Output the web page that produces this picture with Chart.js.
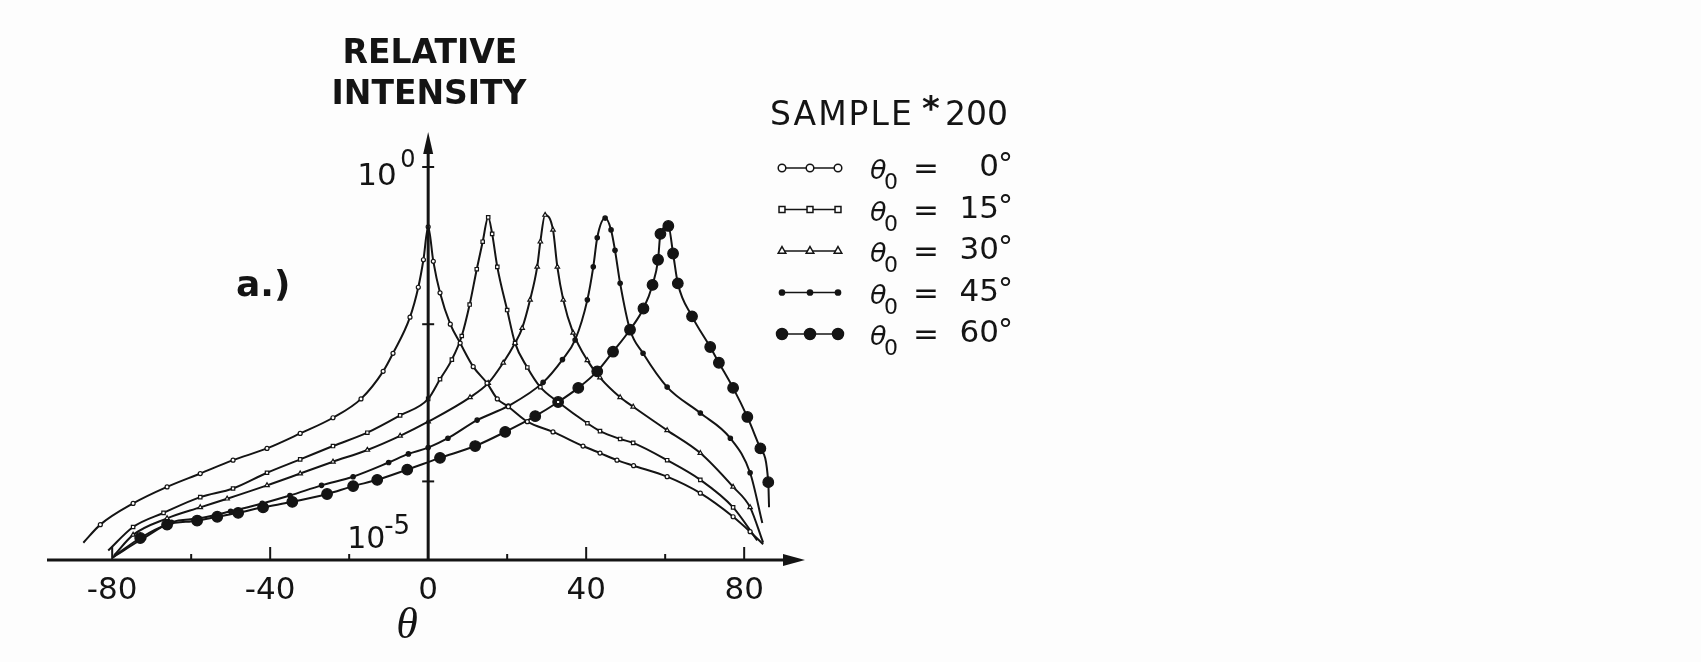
<!DOCTYPE html>
<html>
<head>
<meta charset="utf-8">
<title>Relative intensity vs scattering angle</title>
<script src="https://cdn.jsdelivr.net/npm/chart.js@4.4.1/dist/chart.umd.min.js"></script>
<style>
    html, body { margin: 0; padding: 0; background: #fdfdfd; }
    #wrap { width: 1701px; height: 662px; }
</style>
</head>
<body>
<div id="wrap"><canvas id="intensityChart" width="1701" height="662"></canvas></div>
<script>
// incidence angles (deg) of the five runs
const incidence = [0, 15, 30, 45, 60];

// scattering angle theta (deg) and log10 of relative intensity for each run
const theta0 = [-87.3, -83, -74.7, -66.1, -57.7, -49.4, -40.8, -32.4, -24.1, -17, -11.4, -8.9, -4.6, -2.5, -1.2, 0, 1.3, 3, 5.6, 8.1, 11.4, 14.9, 17.5, 20.3, 25.1, 31.6, 39.2, 43.5, 47.8, 52, 60.5, 68.9, 77.2, 81.5, 84.8];
const logI0 = [-4.78, -4.55, -4.28, -4.07, -3.90, -3.73, -3.58, -3.39, -3.19, -2.95, -2.60, -2.37, -1.91, -1.53, -1.18, -0.76, -1.2, -1.6, -2.0, -2.24, -2.54, -2.75, -2.95, -3.05, -3.24, -3.37, -3.55, -3.64, -3.73, -3.80, -3.94, -4.15, -4.45, -4.64, -4.80];

const theta15 = [-81, -74.7, -67, -57.7, -49.4, -40.8, -32.4, -24.1, -15.4, -7.1, 0, 3, 6, 8.5, 10.5, 12.3, 13.8, 15.2, 16.2, 17.5, 20, 22, 25.1, 28.4, 32.9, 40.3, 43.5, 48.6, 51.9, 60.5, 68.9, 77.2, 83.3];
const logI15 = [-4.88, -4.58, -4.40, -4.20, -4.09, -3.89, -3.72, -3.55, -3.38, -3.16, -2.95, -2.70, -2.45, -2.15, -1.75, -1.3, -0.95, -0.64, -0.85, -1.27, -1.82, -2.24, -2.55, -2.80, -2.99, -3.26, -3.36, -3.46, -3.51, -3.73, -3.98, -4.33, -4.75];

const theta30 = [-79.5, -74.7, -66.1, -57.7, -50.9, -40.8, -32.4, -24.1, -15.4, -7.1, 0, 10.6, 15.2, 19, 22, 23.8, 25.8, 27.6, 28.4, 29.6, 31.6, 32.7, 34.2, 36.7, 40.3, 43.5, 48.6, 51.9, 60.5, 68.9, 77.2, 81.5, 84.8];
const logI30 = [-4.94, -4.68, -4.47, -4.33, -4.22, -4.05, -3.90, -3.75, -3.60, -3.42, -3.24, -2.93, -2.75, -2.49, -2.24, -2.05, -1.69, -1.27, -0.95, -0.61, -0.80, -1.27, -1.69, -2.11, -2.46, -2.68, -2.93, -3.05, -3.35, -3.64, -4.07, -4.33, -4.78];

const theta45 = [-80, -72, -65, -58, -50, -42, -35, -27, -19, -10, -5, 0, 5, 12.4, 20.3, 29.1, 34, 37.2, 40.3, 41.8, 42.8, 44.8, 46.3, 47.3, 48.6, 51.1, 54.4, 60.5, 68.9, 76.5, 81.5, 84.6];
const logI45 = [-4.97, -4.72, -4.52, -4.47, -4.38, -4.28, -4.18, -4.05, -3.94, -3.76, -3.65, -3.57, -3.45, -3.22, -3.04, -2.74, -2.45, -2.20, -1.69, -1.27, -0.90, -0.65, -0.80, -1.06, -1.48, -2.07, -2.37, -2.80, -3.13, -3.45, -3.89, -4.53];

const theta60 = [-80, -72.9, -66.1, -58.5, -53.4, -48.1, -41.8, -34.4, -25.6, -19, -12.9, -5.3, 3, 11.9, 19.5, 27.1, 32.9, 38, 42.8, 46.8, 51.1, 54.5, 56.8, 58.2, 58.8, 60.8, 62, 63.2, 66.8, 71.4, 73.6, 77.2, 80.8, 84.1, 86.1, 86.3];
const logI60 = [-4.97, -4.72, -4.55, -4.50, -4.45, -4.40, -4.33, -4.26, -4.16, -4.06, -3.98, -3.85, -3.70, -3.55, -3.37, -3.17, -2.99, -2.81, -2.60, -2.35, -2.07, -1.80, -1.50, -1.18, -0.85, -0.75, -1.10, -1.48, -1.90, -2.29, -2.49, -2.81, -3.18, -3.58, -4.01, -4.33];

// axis ticks
const xTickLabels = [-80, -40, 0, 40, 80];
const xTickMarks = [-80, -60, -40, -20, 20, 40, 60, 80];
const yTickMarks = [1, 1e-2, 1e-4];

const INK = "#141414";

function toPoints(thetas, logs) {
    return thetas.map((t, i) => ({ x: t, y: Math.pow(10, logs[i]) }));
}

// hide the marker on the two end points of a curve
function endless(r) {
    return (c) => (c.dataIndex === 0 || c.dataIndex === c.dataset.data.length - 1) ? 0 : r;
}

let curves = [
    { t: theta0, l: logI0, style: "circle", r: 2, fill: "#fff", lr: 3.8 },
    { t: theta15, l: logI15, style: "rect", r: 2.4, fill: "#fff", lr: 4.2 },
    { t: theta30, l: logI30, style: "triangle", r: 2.6, fill: "#fff", lr: 4.4 },
    { t: theta45, l: logI45, style: "circle", r: 2.2, fill: INK, lr: 2.6 },
    { t: theta60, l: logI60, style: "circle", r: 5.3, fill: INK, lr: 5.5 }
];

let datasets = curves.map((c, i) => ({
    label: "θ0 = " + incidence[i] + "°",
    data: toPoints(c.t, c.l),
    borderColor: INK,
    borderWidth: 2,
    cubicInterpolationMode: "monotone",
    pointStyle: c.style,
    pointRadius: endless(c.r),
    pointBackgroundColor: c.fill,
    pointBorderColor: INK,
    pointBorderWidth: 1.2,
    legendRadius: c.lr
}));

// axis lines with arrow heads, and the small tick marks
const arrowAxes = {
    id: "arrowAxes",
    afterDatasetsDraw(chart) {
        const { ctx, chartArea: a, scales: { x, y } } = chart;
        const x0 = x.getPixelForValue(0);
        const yb = y.getPixelForValue(1e-5);

        ctx.save();
        ctx.strokeStyle = INK;
        ctx.fillStyle = INK;
        ctx.lineWidth = 3;

        ctx.beginPath();
        ctx.moveTo(a.left, yb);
        ctx.lineTo(a.right - 10, yb);
        ctx.stroke();
        ctx.beginPath();
        ctx.moveTo(a.right, yb);
        ctx.lineTo(a.right - 22, yb - 6);
        ctx.lineTo(a.right - 22, yb + 6);
        ctx.closePath();
        ctx.fill();

        ctx.beginPath();
        ctx.moveTo(x0, yb + 1);
        ctx.lineTo(x0, a.top + 10);
        ctx.stroke();
        ctx.beginPath();
        ctx.moveTo(x0, a.top);
        ctx.lineTo(x0 - 5, a.top + 22);
        ctx.lineTo(x0 + 5, a.top + 22);
        ctx.closePath();
        ctx.fill();

        ctx.lineWidth = 2;
        xTickMarks.forEach(v => {
            let px = x.getPixelForValue(v);
            let len = (v % 40 === 0) ? 13 : 6;
            ctx.beginPath();
            ctx.moveTo(px, yb);
            ctx.lineTo(px, yb - len);
            ctx.stroke();
        });
        yTickMarks.forEach(v => {
            let py = y.getPixelForValue(v);
            ctx.beginPath();
            ctx.moveTo(x0 - 6, py);
            ctx.lineTo(x0 + 6, py);
            ctx.stroke();
        });
        ctx.restore();
    }
};

// titles, exponent labels and the sample legend
const annotations = {
    id: "annotations",
    afterDraw(chart) {
        const { ctx, scales: { x, y } } = chart;
        const x0 = x.getPixelForValue(0);
        ctx.save();
        ctx.fillStyle = INK;
        ctx.strokeStyle = INK;
        ctx.textBaseline = "alphabetic";

        ctx.textAlign = "center";
        ctx.font = "bold 33px 'DejaVu Sans'";
        ctx.fillText("RELATIVE", 430, 63);
        ctx.fillText("INTENSITY", 429, 104);

        ctx.font = "bold 36px 'DejaVu Sans'";
        ctx.textAlign = "left";
        ctx.fillText("a.)", 236, 296);

        // 10^0 and 10^-5 beside the vertical axis
        let yTop = y.getPixelForValue(1);
        ctx.font = "31px 'DejaVu Sans'";
        ctx.fillText("10", x0 - 71, yTop + 18);
        ctx.font = "24px 'DejaVu Sans'";
        ctx.fillText("0", x0 - 28, yTop);
        let yBot = y.getPixelForValue(1e-5);
        ctx.font = "30px 'DejaVu Sans'";
        ctx.fillText("10", x0 - 81, yBot - 12);
        ctx.font = "26px 'DejaVu Sans'";
        ctx.fillText("-5", x0 - 44, yBot - 26);

        // horizontal axis symbol
        ctx.textAlign = "center";
        ctx.font = "italic 44px 'Liberation Serif'";
        ctx.fillText("θ", 407, 638);

        // legend block
        ctx.textAlign = "left";
        ctx.font = "33px 'DejaVu Sans'";
        ctx.letterSpacing = "2px";
        ctx.fillText("SAMPLE", 770, 125);
        ctx.letterSpacing = "0px";
        ctx.font = "bold 34px 'DejaVu Sans'";
        ctx.fillText("*", 922, 120);
        ctx.font = "33px 'DejaVu Sans'";
        ctx.fillText("200", 945, 125);

        chart.data.datasets.forEach((ds, i) => {
            let ry = 168 + i * 41.5;
            ctx.lineWidth = 1.5;
            ctx.beginPath();
            ctx.moveTo(782, ry);
            ctx.lineTo(838, ry);
            ctx.stroke();
            [782, 810, 838].forEach(mx => {
                ctx.fillStyle = ds.pointBackgroundColor;
                ctx.strokeStyle = INK;
                Chart.helpers.drawPoint(ctx, {
                    pointStyle: ds.pointStyle,
                    radius: ds.legendRadius,
                    rotation: 0,
                    borderWidth: 1.5
                }, mx, ry);
            });
            ctx.fillStyle = INK;
            ctx.textAlign = "left";
            ctx.font = "italic 27px 'DejaVu Sans'";
            ctx.fillText("θ", 870, ry + 11);
            ctx.font = "22px 'DejaVu Sans'";
            ctx.fillText("0", 884, ry + 21);
            ctx.font = "31px 'DejaVu Sans'";
            ctx.fillText("=", 913, ry + 10);
            ctx.textAlign = "right";
            ctx.fillText(String(incidence[i]), 999, ry + 8);
            ctx.textAlign = "left";
            ctx.font = "30px 'DejaVu Sans'";
            ctx.fillText("°", 998, ry + 6);
        });
        ctx.restore();
    }
};

Chart.defaults.font.family = "'DejaVu Sans'";
Chart.defaults.color = INK;

let ctx = document.getElementById("intensityChart");

window.intensityChart = new Chart(ctx, {
    type: "line",
    data: { datasets: datasets },
    options: {
        responsive: false,
        animation: false,
        layout: {
            padding: { left: 47, right: 896, top: 132, bottom: 0 }
        },
        plugins: {
            legend: { display: false },
            tooltip: { enabled: false }
        },
        scales: {
            x: {
                type: "linear",
                min: -96.5,
                max: 95.4,
                grid: { display: false, drawTicks: false },
                border: { display: false },
                afterBuildTicks: (s) => { s.ticks = xTickLabels.map(v => ({ value: v })); },
                afterFit: (s) => { s.height = 102; },
                ticks: {
                    autoSkip: false,
                    maxRotation: 0,
                    padding: 12,
                    color: INK,
                    font: { size: 31 },
                    callback: (v) => String(v)
                }
            },
            y: {
                type: "logarithmic",
                min: 1e-5,
                max: 2.79,
                display: false
            }
        }
    },
    plugins: [arrowAxes, annotations]
});
</script>
</body>
</html>
